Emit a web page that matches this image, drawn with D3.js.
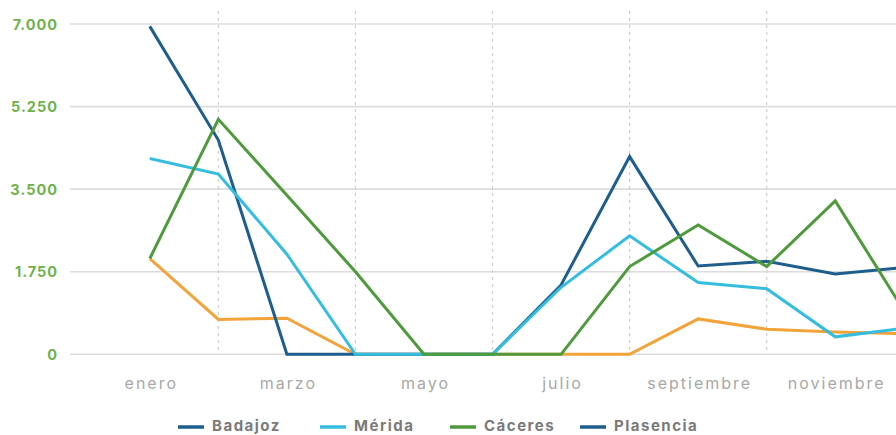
<!DOCTYPE html>
<html>
<head>
<meta charset="utf-8">
<script src="https://cdn.jsdelivr.net/npm/d3@7/dist/d3.min.js"></script>
<style>
  html, body { margin: 0; padding: 0; background: #ffffff; }
  svg { display: block; font-family: Inter, "Open Sans", sans-serif; }
</style>
</head>
<body>
<svg id="chart" width="896" height="435"></svg>
<script>
// ---- data ----
const months = ["enero","febrero","marzo","abril","mayo","junio","julio","agosto","septiembre","octubre","noviembre","diciembre"];
const yTicks = [0, 1750, 3500, 5250, 7000];
const badajoz  = [6950, 4540, 0, 0, 0, 0, 1470, 4190, 1870, 1970, 1700, 1840];
const merida   = [4150, 3820, 2120, 0, 0, 0, 1420, 2510, 1520, 1390, 370, 550];
const caceres  = [2030, 4980, 3370, 1750, 0, 0, 0, 1860, 2740, 1860, 3250, 930];
const otros    = [2030, 740, 765, 0, 0, 0, 0, 0, 750, 530, 470, 440];
const seriesNames  = ["Otros", "Badajoz", "Mérida", "Cáceres"];
const seriesValues = [otros, badajoz, merida, caceres];
const seriesColors = ["#f2a33a", "#1d5e8c", "#35bde0", "#4e9a3c"];
const legendNames  = ["Badajoz", "Mérida", "Cáceres", "Plasencia"];
const legendColors = ["#1d5e8c", "#35bde0", "#4e9a3c", "#1d5e8c"];

// ---- layout ----
const svg = d3.select("#chart");
const gridLeft = 70, gridRight = 896;
const x = d3.scalePoint().domain(months).range([149.8, 903.8]);
const y = d3.scaleLinear().domain([0, 7000]).range([354.3, 24]);

// horizontal grid
svg.append("g").selectAll("line").data(yTicks).join("line")
  .attr("x1", gridLeft).attr("x2", gridRight)
  .attr("y1", d => y(d)).attr("y2", d => y(d))
  .attr("stroke", "#dcdcdc").attr("stroke-width", 1.6);

// vertical dashed grid on even months
const dashedMonths = months.filter((m, i) => i % 2 === 1);
svg.append("g").selectAll("line").data(dashedMonths).join("line")
  .attr("x1", d => x(d)).attr("x2", d => x(d))
  .attr("y1", 11).attr("y2", y(0))
  .attr("stroke", "#cfcfcf").attr("stroke-width", 1.2)
  .attr("stroke-dasharray", "3,4");

// y axis labels
const yAxis = d3.axisLeft(y).tickValues(yTicks)
  .tickFormat(d => d3.format(",")(d).replace(/,/g, "."))
  .tickSize(0).tickPadding(0);
const gy = svg.append("g").attr("transform", "translate(58,0)").call(yAxis);
gy.select(".domain").remove();
gy.selectAll("text").attr("fill", "#6fb24a").attr("font-size", 14.5)
  .attr("font-weight", 700).attr("dy", "0.35em").attr("letter-spacing", 1)
  .style("font-family", "Inter, sans-serif");

// x axis labels
const labelMonths = months.filter((m, i) => i % 2 === 0);
const xAxis = d3.axisBottom(x).tickValues(labelMonths).tickSize(0).tickPadding(0);
const gx = svg.append("g").attr("transform", "translate(0,383)").call(xAxis);
gx.select(".domain").remove();
gx.selectAll("text").attr("fill", "#a8a8a8").attr("font-size", 16)
  .attr("letter-spacing", 2).attr("dx", 1)
  .attr("dy", "0.35em").style("font-family", "Inter, sans-serif");

// lines
const line = d3.line().x((d, i) => x(months[i])).y(d => y(d));
svg.append("g").selectAll("path").data(seriesValues).join("path")
  .attr("d", d => line(d))
  .attr("fill", "none")
  .attr("stroke", (d, i) => seriesColors[i])
  .attr("stroke-width", 3)
  .attr("stroke-linejoin", "miter");

// legend
const legendX = [178, 320, 450, 580];
const lg = svg.append("g").selectAll("g").data(legendNames).join("g")
  .attr("transform", (d, i) => `translate(${legendX[i]},426)`);
lg.append("line").attr("x1", 0).attr("x2", 26).attr("y1", 1).attr("y2", 1)
  .attr("stroke", (d, i) => legendColors[i]).attr("stroke-width", 3.5);
lg.append("text").attr("x", 34).attr("dy", "0.36em")
  .attr("fill", "#7a7a7a").attr("font-size", 15).attr("font-weight", 700)
  .attr("letter-spacing", 1.5)
  .text(d => d);
</script>
</body>
</html>
